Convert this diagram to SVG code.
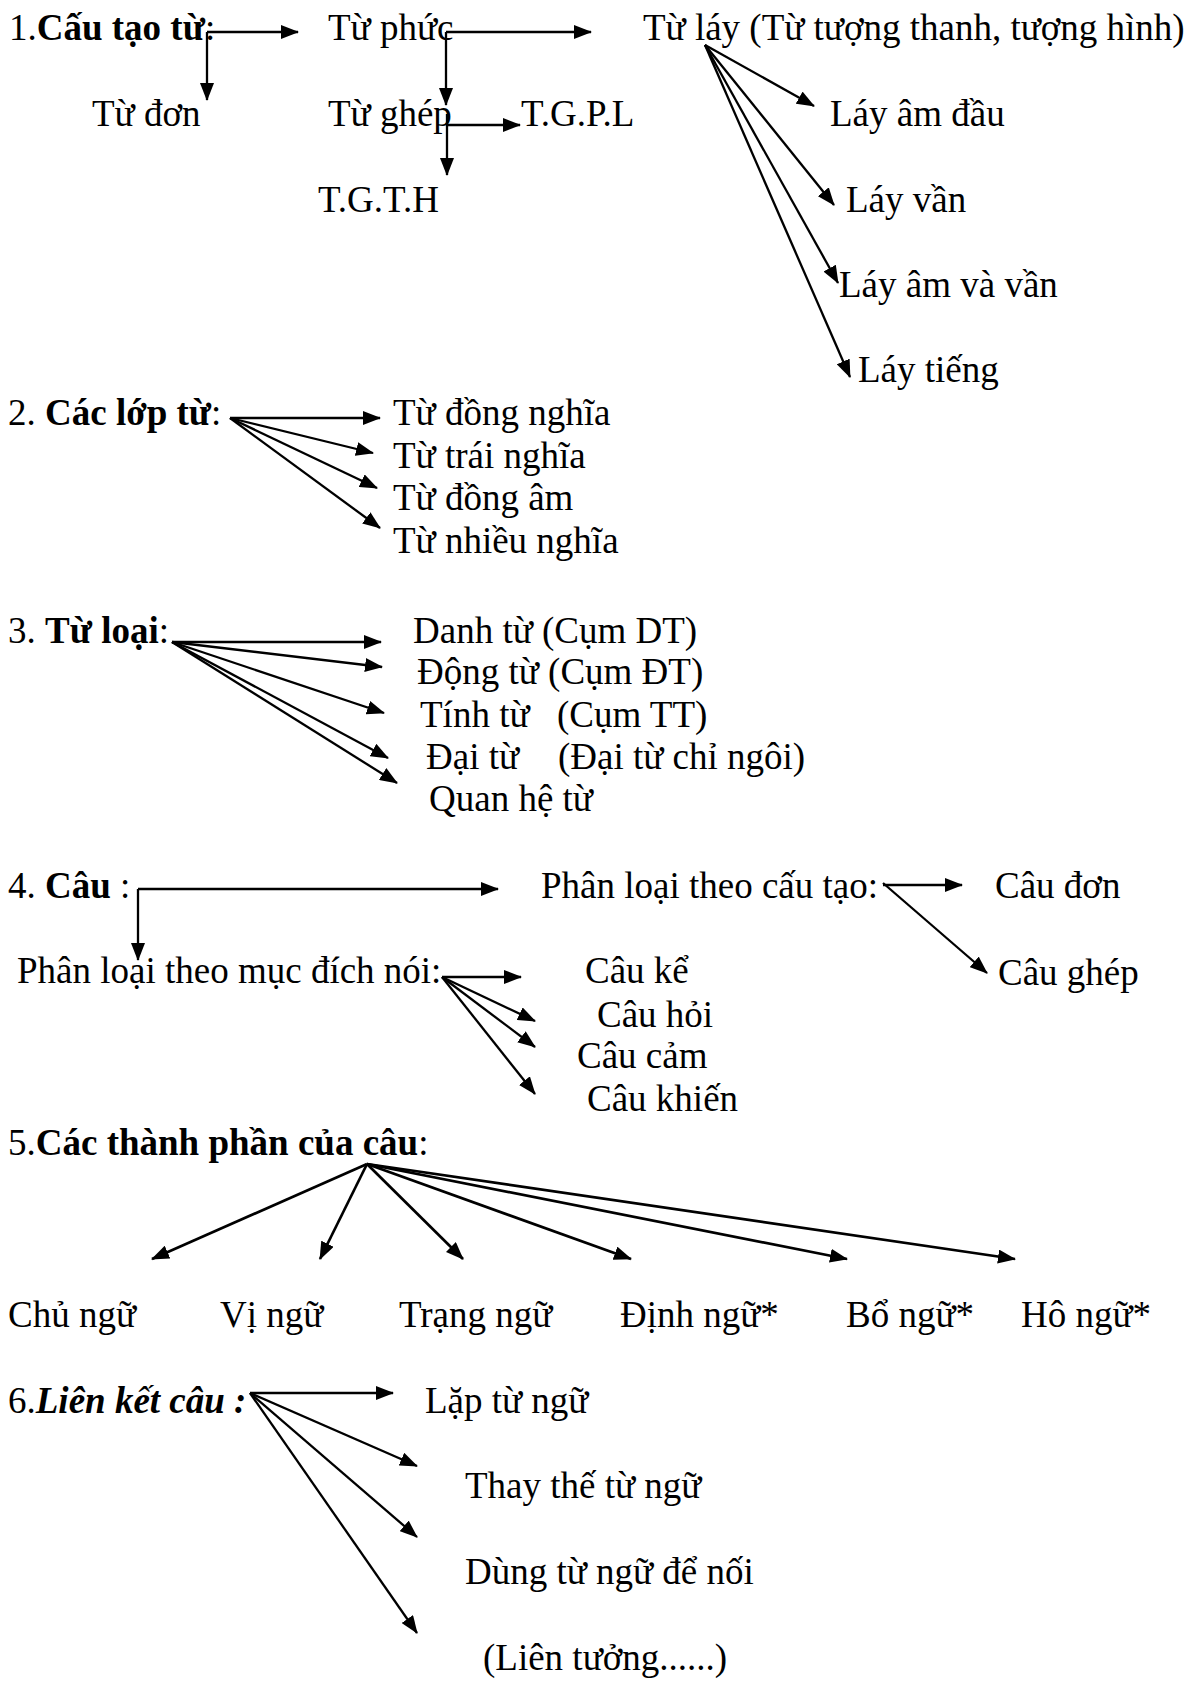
<svg xmlns="http://www.w3.org/2000/svg" width="1192" height="1682" viewBox="0 0 1192 1682">
<style>
text{font-family:"Liberation Serif","Times New Roman",serif;font-size:37px;fill:#000}
.b{font-weight:bold}
.bi{font-weight:bold;font-style:italic}
.c path{fill:none;stroke:#000;stroke-width:2.3;marker-end:url(#ah)}
.c .t{stroke-width:2.7}
</style>
<defs>
<marker id="ah" viewBox="0 0 18 14" markerUnits="userSpaceOnUse" markerWidth="18" markerHeight="14" refX="17" refY="7" orient="auto">
<path d="M0,0 L18,7 L0,14 Z" fill="#000"/>
</marker>
</defs>
<rect width="1192" height="1682" fill="#fff"/>

<g id="s1-title"><text x="9" y="40">1.<tspan class="b">Cấu tạo từ</tspan>:</text></g>
<g id="tu-phuc"><text x="328" y="40">Từ phức</text></g>
<g id="tu-lay"><text x="643" y="40">Từ láy (Từ tượng thanh, tượng hình)</text></g>
<g id="tu-don"><text x="92" y="126">Từ đơn</text></g>
<g id="tu-ghep"><text x="328" y="126">Từ ghép</text></g>
<g id="tgpl"><text x="521" y="126">T.G.P.L</text></g>
<g id="tgth"><text x="318" y="212">T.G.T.H</text></g>
<g id="lay-am-dau"><text x="830" y="126">Láy âm đầu</text></g>
<g id="lay-van"><text x="846" y="212">Láy vần</text></g>
<g id="lay-am-va-van"><text x="839" y="297">Láy âm và vần</text></g>
<g id="lay-tieng"><text x="858" y="382">Láy tiếng</text></g>

<g id="s2-title"><text x="8" y="425">2. <tspan class="b">Các lớp từ</tspan>:</text></g>
<g id="dong-nghia"><text x="393" y="425">Từ đồng nghĩa</text></g>
<g id="trai-nghia"><text x="393" y="468">Từ trái nghĩa</text></g>
<g id="dong-am"><text x="393" y="510">Từ đồng âm</text></g>
<g id="nhieu-nghia"><text x="393" y="553">Từ nhiều nghĩa</text></g>

<g id="s3-title"><text x="8" y="643">3. <tspan class="b">Từ loại</tspan>:</text></g>
<g id="danh-tu"><text x="413" y="643">Danh từ (Cụm DT)</text></g>
<g id="dong-tu"><text x="417" y="684">Động từ (Cụm ĐT)</text></g>
<g id="tinh-tu"><text x="420" y="727">Tính từ<tspan x="557">(Cụm TT)</tspan></text></g>
<g id="dai-tu"><text x="426" y="769">Đại từ<tspan x="558">(Đại từ chỉ ngôi)</tspan></text></g>
<g id="quan-he-tu"><text x="429" y="811">Quan hệ từ</text></g>

<g id="s4-title"><text x="8" y="898">4. <tspan class="b">Câu</tspan> :</text></g>
<g id="pl-cau-tao"><text x="541" y="898">Phân loại theo cấu tạo:</text></g>
<g id="cau-don"><text x="995" y="898">Câu đơn</text></g>
<g id="cau-ghep"><text x="998" y="985">Câu ghép</text></g>
<g id="pl-muc-dich"><text x="17" y="983">Phân loại theo mục đích nói:</text></g>
<g id="cau-ke"><text x="585" y="983">Câu kể</text></g>
<g id="cau-hoi"><text x="597" y="1027">Câu hỏi</text></g>
<g id="cau-cam"><text x="577" y="1068">Câu cảm</text></g>
<g id="cau-khien"><text x="587" y="1111">Câu khiến</text></g>

<g id="s5-title"><text x="8" y="1155">5.<tspan class="b">Các thành phần của câu</tspan>:</text></g>
<g id="chu-ngu"><text x="8" y="1327">Chủ ngữ</text></g>
<g id="vi-ngu"><text x="220" y="1327">Vị ngữ</text></g>
<g id="trang-ngu"><text x="399" y="1327">Trạng ngữ</text></g>
<g id="dinh-ngu"><text x="620" y="1327">Định ngữ*</text></g>
<g id="bo-ngu"><text x="846" y="1327">Bổ ngữ*</text></g>
<g id="ho-ngu"><text x="1021" y="1327">Hô ngữ*</text></g>

<g id="s6-title"><text x="8" y="1413">6.<tspan class="bi">Liên kết câu :</tspan></text></g>
<g id="lap-tu-ngu"><text x="425" y="1413">Lặp từ ngữ</text></g>
<g id="thay-the"><text x="465" y="1498">Thay thế từ ngữ</text></g>
<g id="dung-tu-ngu"><text x="465" y="1584">Dùng từ ngữ để nối</text></g>
<g id="lien-tuong"><text x="483" y="1670">(Liên tưởng......)</text></g>

<g id="connectors" class="c">
<path d="M207,32 H298"/>
<path d="M207,32 V100"/>
<path d="M446,32 H591"/>
<path d="M446,32 V105"/>
<path d="M448,125 H520"/>
<path d="M447,114 V175"/>
<path d="M705,45 L814,106"/>
<path d="M705,45 L834,205"/>
<path d="M705,45 L838,283"/>
<path d="M705,45 L850,377"/>

<path d="M230,418 H380"/>
<path d="M230,418 L373,453"/>
<path d="M230,418 L377,488"/>
<path d="M230,418 L380,528"/>

<path d="M172,642 H381"/>
<path d="M172,642 L382,667"/>
<path d="M172,642 L384,713"/>
<path d="M172,642 L388,758"/>
<path d="M172,642 L397,783"/>

<path d="M138,889 H498"/>
<path d="M138,889 V960"/>
<path d="M883,885 H962"/>
<path d="M883,883 L987,973"/>
<path d="M442,977 H521"/>
<path d="M442,977 L535,1021"/>
<path d="M442,977 L535,1047"/>
<path d="M442,977 L535,1094"/>

<path class="t" d="M367,1164 L152,1259"/>
<path class="t" d="M367,1164 L320,1259"/>
<path class="t" d="M367,1164 L463,1259"/>
<path class="t" d="M367,1164 L631,1259"/>
<path class="t" d="M367,1164 L847,1259"/>
<path class="t" d="M367,1164 L1015,1259"/>

<path d="M250,1393 H393"/>
<path d="M250,1393 L417,1466"/>
<path d="M250,1393 L417,1537"/>
<path d="M250,1393 L417,1633"/>
</g>
</svg>
